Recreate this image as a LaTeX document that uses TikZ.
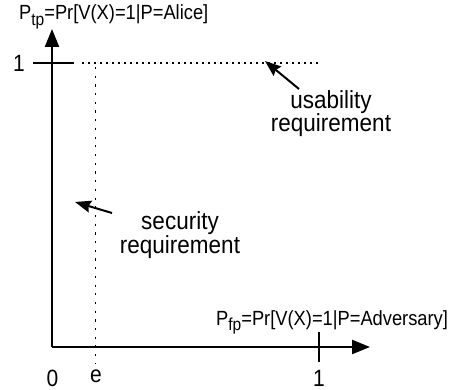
\documentclass[tikz,border=0pt]{standalone}
\usepackage{fontspec}
\setmainfont{Liberation Sans}
\usetikzlibrary{arrows.meta}
\newcommand{\lowsub}[1]{\raisebox{-4.5pt}{\fontsize{15.5}{16}\selectfont #1}}
\begin{document}
\begin{tikzpicture}[x=1pt,y=-1pt,
  axis/.style={line width=2.4pt,-{Triangle[length=18pt,width=14pt]}},
  tickline/.style={line width=2.4pt},
  dotline/.style={line width=1.8pt,dash pattern=on 2.4pt off 3.6pt},
  vdotline/.style={line width=1.8pt,dash pattern=on 2.2pt off 6.5pt},
  pointer/.style={line width=2pt,-{Stealth[length=16pt,width=12pt,inset=2pt]}},
  lbl/.style={font=\fontsize{21}{21}\selectfont,inner sep=0pt,transform shape,yscale=1.12},
  axlbl/.style={font=\fontsize{18.3}{20}\selectfont,inner sep=0pt,transform shape,yscale=1.12},
  note/.style={font=\fontsize{22.5}{21}\selectfont,inner sep=0pt,align=center,transform shape,yscale=1.1}]
\useasboundingbox (0,0) rectangle (457,390);
% key points
\coordinate (O) at (52,347);
\coordinate (ytip) at (52,29);
\coordinate (xtip) at (370,347);
\coordinate (yt1) at (33,63);
\coordinate (yt2) at (74,63);
\coordinate (h1) at (82,63);
\coordinate (h2) at (320,63);
\coordinate (v1) at (95.5,67);
\coordinate (v2) at (95.5,363);
\coordinate (xt1) at (319,332);
\coordinate (xt2) at (319,362);
% axes
\draw[axis] (O) -- (ytip);
\draw[axis] (O) -- (xtip);
\draw[tickline] (yt1) -- (yt2);
\draw[tickline] (xt1) -- (xt2);
% dotted requirement lines
\draw[dotline] (h1) -- (h2);
\draw[vdotline] (v1) -- (v2);
% labels
\node[axlbl,anchor=base west] (ptp) at (19,20) {P\lowsub{tp}=Pr[V(X)=1|P=Alice]};
\node[axlbl,anchor=base west] (pfp) at (216,325) {P\lowsub{fp}=Pr[V(X)=1|P=Adversary]};
\node[lbl] (one-y) at (19,63) {1};
\node[lbl] (zero) at (52.5,378) {0};
\node[lbl] (e) at (96,376) {e};
\node[lbl] (one-x) at (319,378) {1};
% notes
\node[note,anchor=base] (usab) at (331,132) {usability\\requirement};
\node[note,anchor=base] (secu) at (180,253) {security\\requirement};
\coordinate (ua1) at (299,89);
\coordinate (ua2) at (265,61);
\coordinate (sa1) at (112,213);
\coordinate (sa2) at (75,202);
\draw[pointer] (ua1) -- (ua2);
\draw[pointer] (sa1) -- (sa2);
\end{tikzpicture}
\end{document}
